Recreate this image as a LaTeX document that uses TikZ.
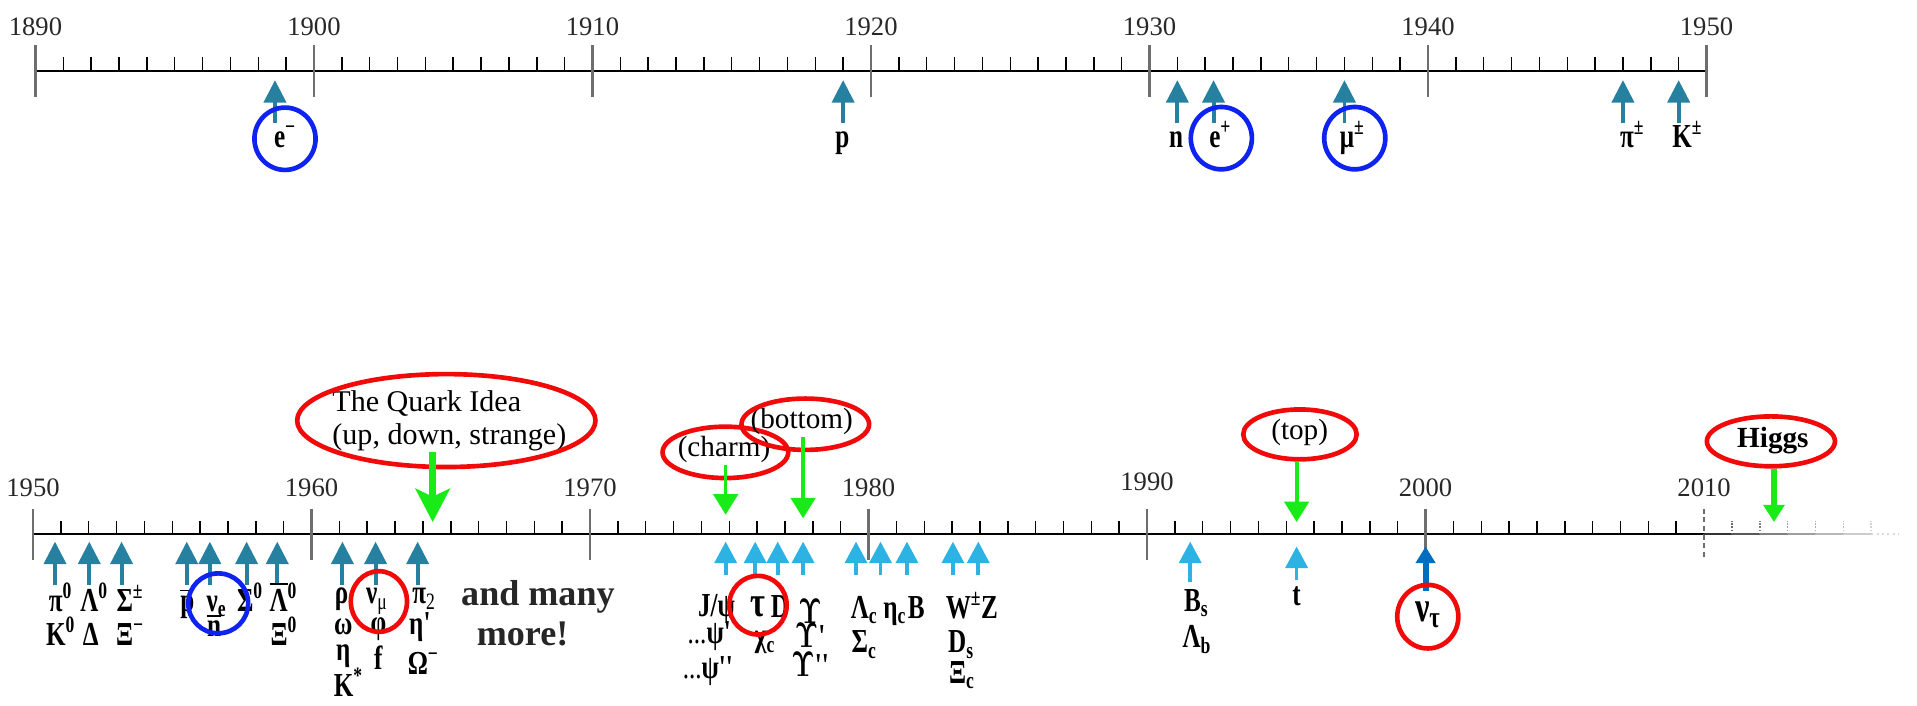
\documentclass[tikz,border=0pt]{standalone}
\usepackage{amsmath}
\usepackage{graphicx}
\usepackage{xcolor}
\usepackage{fontspec}
\usepackage{tikz}
\usetikzlibrary{arrows.meta, shapes.geometric}

\newfontfamily\timesfont{Liberation Serif}

\definecolor{oldteal}{RGB}{38,128,160}
\definecolor{newcyan}{RGB}{45,178,228}
\definecolor{taublue}{RGB}{0,110,190}
\definecolor{idgreen}{RGB}{25,235,25}
\definecolor{ringred}{RGB}{240,10,10}
\definecolor{ringblue}{RGB}{15,35,240}
\definecolor{yeargray}{RGB}{40,40,40}
\definecolor{tickgray}{RGB}{110,110,110}

% squeezed particle names
\newcommand{\pl}[1]{\scalebox{0.75}[1]{#1}}
\newcommand{\ovl}[1]{$\overline{\hbox{#1}}$}

\tikzset{
  axisline/.style={line width=0.4mm, black},
  minortick/.style={line width=0.3mm, black},
  majortick/.style={line width=0.5mm, tickgray},
  yearlbl/.style={font=\timesfont\fontsize{15.5}{18}\selectfont, text=yeargray, inner sep=0},
  partlbl/.style={font=\timesfont\bfseries\boldmath\fontsize{19.5}{22}\selectfont, anchor=base, inner sep=0},
  biglbl/.style={partlbl, font=\timesfont\bfseries\boldmath\fontsize{25}{27}\selectfont},
  manylbl/.style={font=\timesfont\bfseries\fontsize{21}{24}\selectfont, text=black!85, anchor=base, inner sep=0},
  oldfind/.style={oldteal, line width=0.8mm, -{Triangle[width=4.5mm, length=4.6mm]}},
  newfind/.style={newcyan, line width=0.75mm, -{Triangle[width=4.5mm, length=4.4mm]}},
  taufind/.style={taublue, line width=1.2mm, -{Triangle[width=3.9mm, length=3.4mm]}},
  idea/.style={idgreen, line width=0.7mm, -{Triangle[width=5mm, length=4.2mm]}},
  bigidea/.style={idgreen, line width=1.3mm, -{Stealth[width=7mm, length=6.8mm, inset=1.6mm]}},
  callout/.style={font=\timesfont\fontsize{17}{20}\selectfont, inner sep=0.3mm},
  ring/.style={ellipse, draw, line width=0.95mm, inner sep=0},
  redring/.style={ring, ringred},
  bluering/.style={ring, ringblue},
}

\begin{document}
\begin{tikzpicture}[x=0.25mm, y=-0.25mm]

\useasboundingbox (0,0) rectangle (1568,577);

% 1890 - 1950
\begin{scope}[shift={(29,58)}, x=5.695mm]
\draw[axisline] (0,0) -- (60,0);
\foreach \t in {1,...,59} \draw[minortick] (\t,0) -- (\t,-11);
\foreach \d in {0,...,6} {
  \pgfmathtruncatemacro{\yr}{1890+10*\d}
  \draw[majortick] (10*\d,-21) -- (10*\d,21);
  \node[yearlbl] (y\yr) at (10*\d,-36) {\yr};
}

\foreach \n/\t in {em/8.6, pr/29, ne/41, ep/42.3, mu/47, pic/57, kc/59} {
  \coordinate (\n-tip) at (\t,7.5);
  \coordinate (\n-tail) at (\t,43);
  \draw[oldfind] (\n-tail) -- (\n-tip);
}

\node[partlbl] (eminus) at (8.96,63) {\pl{e\textsuperscript{−}}};
\node[partlbl] (proton) at (28.97,63) {\pl{p}};
\node[partlbl] (neutron) at (40.96,63) {\pl{n}};
\node[partlbl] (eplus) at (42.54,63) {\pl{e\textsuperscript{+}}};
\node[partlbl] (muon) at (47.28,63) {\pl{μ\textsuperscript{±}}};
\node[partlbl] (pion) at (57.33,63) {\pl{π\textsuperscript{±}}};
\node[partlbl] (kaon) at (59.31,63) {\pl{K\textsuperscript{±}}};

\node[bluering, minimum width=12.5mm, minimum height=12.75mm] (eminus-ring) at (8.96,55.5) {};
\node[bluering, minimum width=12.5mm, minimum height=12.75mm] (eplus-ring) at (42.58,55) {};
\node[bluering, minimum width=12.5mm, minimum height=12.75mm] (muon-ring) at (47.37,55) {};
\end{scope}

% 1950 - 2010 and on
\begin{scope}[shift={(27,437)}, x=5.695mm]
\draw[axisline] (0,0) -- (60,0);
\foreach \t in {1,...,59} \draw[minortick] (\t,0) -- (\t,-11);
\foreach \d/\h in {0/38, 1/38, 2/38, 3/38, 4/43, 5/38, 6/38} {
  \pgfmathtruncatemacro{\yr}{1950+10*\d}
  \node[yearlbl] (y\yr) at (10*\d,-\h) {\yr};
}
\foreach \d in {0,...,5} \draw[majortick] (10*\d,-21) -- (10*\d,21);
\draw[majortick, densely dashed] (60,-21) -- (60,21);

% fading future
\foreach \t/\c in {60/80, 61/65, 62/50, 63/38, 64/28, 65/20}
  \draw[line width=0.4mm, black!\c] (\t,0) -- (\t+1,0);
\draw[line width=0.4mm, black!15, dotted] (66,0) -- (67,0);
\foreach \t/\c in {61/60, 62/50, 63/40, 64/32, 65/25, 66/18}
  \draw[line width=0.3mm, black!\c, densely dotted] (\t,0) -- (\t,-11);

% discoveries
\foreach \n/\t in {pi0/0.79, lam0/2.02, sig/3.18, pbar/5.52, nue/6.35, sig0/7.67, lbar/8.77, rho/11.11, numu/12.30, pi2/13.81} {
  \coordinate (\n-tip) at (\t,6);
  \coordinate (\n-tail) at (\t,41.5);
  \draw[oldfind] (\n-tail) -- (\n-tip);
}
\foreach \n/\t/\a/\b in {jpsi/24.87/6/33, tau/25.93/6/33, dmes/26.74/6/33, ups/27.65/6/33, lamc/29.55/6/33, etac/30.43/6/33, bmes/31.38/6/33, wz/33.03/6/33, ds/33.94/6/33, bs/41.55/6/39, tq/45.37/10/37} {
  \coordinate (\n-tip) at (\t,\a);
  \coordinate (\n-tail) at (\t,\b);
  \draw[newfind] (\n-tail) -- (\n-tip);
}
\coordinate (nutau-tip) at (50,10);
\coordinate (nutau-tail) at (50,46);
\draw[taufind] (nutau-tail) -- (nutau-tip);

\node[partlbl] (pi0) at (0.99,63) {\pl{π\textsuperscript{0}}};
\node[partlbl] (k0) at (0.99,91) {\pl{K\textsuperscript{0}}};
\node[partlbl] (lam0) at (2.19,63) {\pl{Λ\textsuperscript{0}}};
\node[partlbl] (delta) at (2.07,91) {\pl{Δ}};
\node[partlbl] (sigpm) at (3.48,63) {\pl{Σ\textsuperscript{±}}};
\node[partlbl] (xim) at (3.48,91) {\pl{Ξ\textsuperscript{−}}};
\node[partlbl] (pbar) at (5.54,63) {\pl{\ovl{p}}};
\node[partlbl] (nue) at (6.59,63) {\pl{ν\textsubscript{e}}};
\node[partlbl] (nbar) at (6.50,84) {\pl{\ovl{n}}};
\node[partlbl] (sig0) at (7.79,63) {\pl{Σ\textsuperscript{0}}};
\node[partlbl] (lbar0) at (8.99,63) {\pl{\ovl{Λ}\textsuperscript{0}}};
\node[partlbl] (xi0) at (9.01,91) {\pl{Ξ\textsuperscript{0}}};

\node[partlbl] (rho) at (11.08,57) {\pl{ρ}};
\node[partlbl] (omega) at (11.14,82) {\pl{ω}};
\node[partlbl] (eta) at (11.14,103) {\pl{η}};
\node[partlbl] (kstar) at (11.32,133) {\pl{K\textsuperscript{*}}};
\node[partlbl] (numu) at (12.34,57) {\pl{ν\textsubscript{\mdseries μ}}};
\node[partlbl] (phi) at (12.40,81) {\pl{φ}};
\node[partlbl] (fmes) at (12.40,111) {\pl{f}};
\node[partlbl] (pi2) at (14.04,57) {\pl{π\textsubscript{\mdseries 2}}};
\node[partlbl] (etap) at (13.89,82) {\pl{η'}};
\node[partlbl] (omm) at (14.01,115) {\pl{Ω\textsuperscript{−}}};

\node[manylbl] (many) at (18.13,58) {and many};
\node[manylbl] (more) at (17.58,91) {more!};

\node[partlbl] (jpsi) at (24.54,67) {\pl{J/ψ}};
\node[biglbl] (tau) at (26.04,67) {\pl{τ}};
\node[partlbl] (dmes) at (26.82,68) {\pl{D}};
\node[partlbl] (ups) at (27.90,73) {\pl{$\Upsilon$}};
\node[partlbl] (psi2) at (24.28,89) {\pl{\mdseries...\bfseries ψ'}};
\node[partlbl] (chic) at (26.28,92) {\pl{χ\textsubscript{c}}};
\node[partlbl] (ups2) at (27.90,93) {\pl{$\Upsilon$'}};
\node[partlbl] (psi3) at (24.23,118) {\pl{\mdseries...\bfseries ψ''}};
\node[partlbl] (ups3) at (27.90,116) {\pl{$\Upsilon$''}};

\node[partlbl] (lamc) at (29.84,69) {\pl{Λ\textsubscript{c}}};
\node[partlbl] (etac) at (30.94,69) {\pl{η\textsubscript{c}}};
\node[partlbl] (bmes) at (31.71,69) {\pl{B}};
\node[partlbl] (sigc) at (29.84,97) {\pl{Σ\textsubscript{c}}};
\node[partlbl] (wz) at (33.71,69) {\pl{W\textsuperscript{±}Z}};
\node[partlbl] (ds) at (33.32,97) {\pl{D\textsubscript{s}}};
\node[partlbl] (xic) at (33.35,122) {\pl{Ξ\textsubscript{c}}};
\node[partlbl] (bs) at (41.77,63) {\pl{B\textsubscript{s}}};
\node[partlbl] (lamb) at (41.79,93) {\pl{Λ\textsubscript{b}}};
\node[partlbl] (tq) at (45.37,58) {\pl{t}};
\node[biglbl] (nutau) at (50.08,71) {\pl{ν\textsubscript{τ}}};

\node[bluering, minimum width=12.25mm, minimum height=12.25mm] (nue-ring) at (6.65,56.5) {};
\node[redring, minimum width=11.5mm, minimum height=12.4mm] (numu-ring) at (12.42,55) {};
\node[redring, minimum width=11.75mm, minimum height=12mm] (tau-ring) at (26.03,58) {};
\node[redring, minimum width=12.5mm, minimum height=13mm] (nutau-ring) at (50.08,67.4) {};

% ideas
\coordinate (qk-tip) at (14.35,-10);
\coordinate (ch-tip) at (24.87,-16);
\coordinate (bt-tip) at (27.65,-13);
\coordinate (tp-tip) at (45.37,-10);
\coordinate (hg-tip) at (62.51,-10);

\node[callout, align=left, font=\timesfont\fontsize{17.5}{19}\selectfont] (quark) at (14.95,-93) {The Quark Idea\\(up, down, strange)};
\node[redring, minimum width=61mm, minimum height=19mm] (quark-ring) at (14.84,-93) {};
\draw[bigidea] (quark.south -| qk-tip) -- (qk-tip);

\node[callout] (charm) at (24.81,-69) {(charm)};
\node[redring, minimum width=25.7mm, minimum height=10.5mm] (charm-ring) at (24.86,-67) {};
\draw[idea] (charm.south -| ch-tip) -- (ch-tip);

\node[callout] (bottom) at (27.60,-92) {(bottom)};
\node[redring, minimum width=26.1mm, minimum height=10.5mm] (bottom-ring) at (27.73,-90) {};
\draw[idea] (bottom.south -| bt-tip) -- (bt-tip);

\node[callout] (top) at (45.48,-83) {(top)};
\node[redring, minimum width=23.2mm, minimum height=10.2mm] (top-ring) at (45.49,-81.7) {};
\draw[idea, line width=0.8mm] (top-ring.south -| tp-tip) -- (tp-tip);

\node[callout, font=\timesfont\fontsize{17}{20}\selectfont\bfseries] (higgs) at (62.47,-77) {Higgs};
\node[redring, minimum width=26.2mm, minimum height=10.2mm] (higgs-ring) at (62.40,-76) {};
\draw[idgreen, line width=1.2mm, -{Triangle[width=4.2mm, length=3.5mm]}] (higgs-ring.south -| hg-tip) -- (hg-tip);
\end{scope}

\end{tikzpicture}
\end{document}
